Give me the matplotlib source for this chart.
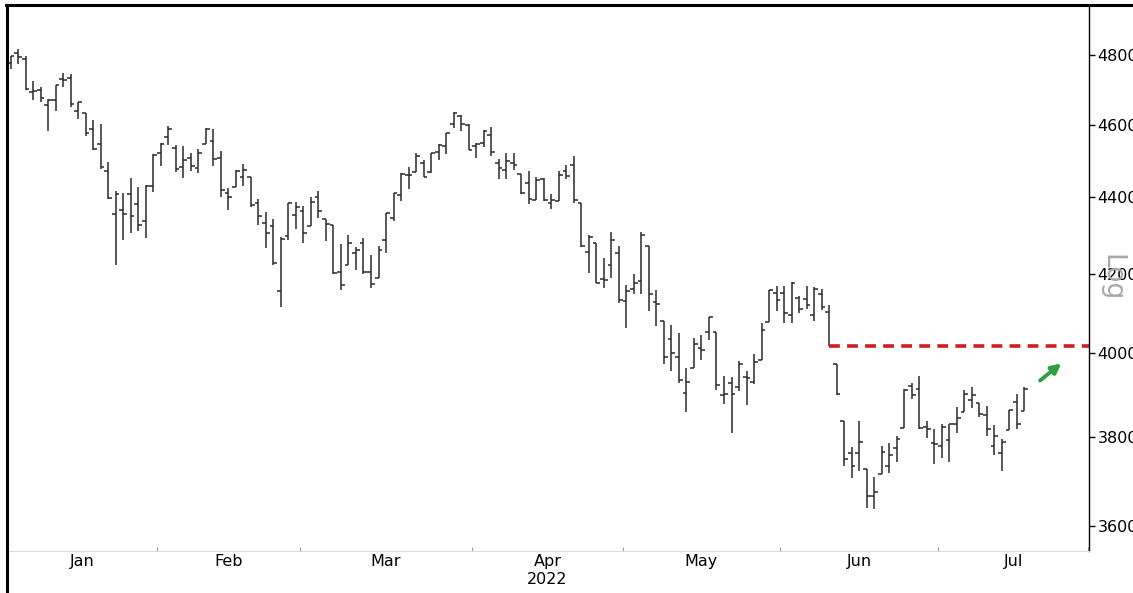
import numpy as np
import pandas as pd
import matplotlib
matplotlib.use("Agg")
import matplotlib.pyplot as plt
from matplotlib.lines import Line2D
from matplotlib.ticker import FixedLocator, NullFormatter, NullLocator

# trading days Jan 3 - Jul 19 2022 (market holidays removed)
holidays = ["2022-01-17", "2022-02-21", "2022-04-15", "2022-05-30", "2022-06-20", "2022-07-04"]
dates = pd.bdate_range("2022-01-03", "2022-07-19")
dates = dates[~dates.isin(pd.to_datetime(holidays))]

opens = [4778, 4805, 4788, 4693, 4698, 4655, 4669, 4729, 4734, 4638,
         4632, 4588, 4547, 4471, 4356, 4367, 4408, 4381, 4336, 4432,
         4520, 4566, 4535, 4483, 4506, 4480, 4547, 4553, 4506, 4413,
         4429, 4456, 4456, 4385, 4333, 4325, 4156, 4298, 4354,
         4363, 4323, 4401, 4342, 4327, 4203, 4223, 4253, 4280, 4203,
         4189, 4288, 4345, 4407, 4462, 4469, 4493, 4470, 4523, 4541,
         4603, 4624, 4599,
         4540, 4548, 4572, 4494, 4475, 4494, 4463, 4438, 4394, 4449,
         4386, 4391, 4472, 4489, 4386, 4255, 4278, 4187, 4223, 4254,
         4131, 4160, 4181, 4270, 4128, 4081, 4035, 3990, 3904, 3964,
         4013, 4052, 4052, 3899, 3928, 3919, 3943, 3930, 3985, 4077, 4151,
         4150, 4095, 4138, 4135, 4096, 4147, 4102, 3974, 3838, 3764,
         3764, 3728, 3666, 3715, 3734, 3775, 3822, 3921, 3913, 3825, 3786,
         3781, 3793, 3832, 3859, 3888, 3881, 3852, 3780, 3764, 3818, 3884, 3861]
highs = [4797, 4819, 4798, 4725, 4708, 4673, 4714, 4749, 4744, 4665,
         4632, 4612, 4602, 4495, 4417, 4411, 4453, 4429, 4433, 4517,
         4550, 4595, 4543, 4540, 4522, 4531, 4590, 4589, 4526, 4426,
         4473, 4490, 4456, 4395, 4362, 4342, 4295, 4385, 4389,
         4378, 4401, 4417, 4342, 4327, 4277, 4299, 4268, 4291, 4248,
         4271, 4359, 4413, 4465, 4482, 4522, 4501, 4521, 4546, 4576,
         4637, 4628, 4603,
         4549, 4584, 4593, 4504, 4521, 4520, 4464, 4471, 4454, 4453,
         4410, 4471, 4488, 4513, 4386, 4299, 4278, 4241, 4308, 4270,
         4170, 4200, 4308, 4270, 4158, 4081, 4069, 4049, 3965, 4039,
         4046, 4091, 4052, 3946, 3943, 3982, 3956, 3999, 4075, 4158, 4168,
         4167, 4178, 4143, 4169, 4165, 4160, 4119, 3974, 3838, 3778,
         3838, 3728, 3708, 3780, 3786, 3803, 3914, 3928, 3946, 3837, 3819,
         3830, 3832, 3871, 3911, 3919, 3881, 3873, 3829, 3796, 3864, 3902, 3918]
lows = [4758, 4774, 4699, 4671, 4663, 4582, 4638, 4707, 4650, 4615,
        4569, 4530, 4478, 4395, 4223, 4287, 4305, 4310, 4292, 4414,
        4484, 4544, 4470, 4452, 4471, 4465, 4547, 4484, 4401, 4365,
        4429, 4430, 4374, 4327, 4267, 4222, 4115, 4287, 4315,
        4280, 4323, 4346, 4285, 4200, 4158, 4223, 4210, 4200, 4162,
        4188, 4252, 4336, 4391, 4424, 4469, 4456, 4465, 4501, 4518,
        4590, 4581, 4530,
        4508, 4539, 4514, 4450, 4450, 4475, 4408, 4381, 4393, 4391,
        4370, 4391, 4449, 4384, 4268, 4201, 4175, 4163, 4189, 4124,
        4063, 4147, 4149, 4106, 4068, 3975, 3958, 3929, 3859, 3964,
        3984, 4034, 3912, 3877, 3810, 3909, 3875, 3925, 3985, 4077, 4105,
        4074, 4074, 4099, 4109, 4080, 4107, 4017, 3900, 3734, 3706,
        3722, 3640, 3637, 3715, 3718, 3744, 3822, 3890, 3820, 3799, 3739,
        3752, 3742, 3809, 3859, 3869, 3847, 3802, 3759, 3722, 3817, 3819, 3861]
closes = [4797, 4794, 4701, 4696, 4677, 4670, 4713, 4726, 4659, 4663,
          4577, 4533, 4483, 4398, 4410, 4356, 4350, 4327, 4432, 4516,
          4547, 4589, 4477, 4501, 4484, 4522, 4587, 4504, 4419, 4402,
          4471, 4475, 4380, 4349, 4305, 4226, 4289, 4385, 4374,
          4306, 4387, 4363, 4329, 4201, 4171, 4278, 4260, 4204, 4173,
          4262, 4358, 4412, 4463, 4461, 4512, 4456, 4520, 4543, 4576,
          4632, 4602, 4530,
          4546, 4583, 4525, 4481, 4500, 4488, 4413, 4397, 4447, 4393,
          4392, 4462, 4459, 4394, 4272, 4296, 4175, 4184, 4288, 4132,
          4155, 4175, 4300, 4147, 4123, 3991, 4001, 3935, 3930, 4024,
          4008, 4089, 3924, 3901, 3901, 3974, 3941, 3979, 4058, 4158, 4132,
          4101, 4177, 4109, 4121, 4161, 4116, 4018, 3901, 3750, 3735,
          3790, 3667, 3675, 3765, 3760, 3796, 3912, 3900, 3822, 3819, 3785,
          3825, 3831, 3845, 3903, 3899, 3854, 3819, 3802, 3790, 3863, 3831, 3915]

resistance = 4018          # Jun 9 close
resistance_start = "2022-06-09"
yticks = [3600, 3800, 4000, 4200, 4400, 4600, 4800]

x = np.arange(len(dates))

W, H = 1133, 593
fig = plt.figure(figsize=(W / 100, H / 100), dpi=100)
ax = fig.add_axes([6 / W, (H - 551) / H, (1089 - 6) / W, (551 - 5) / H])

bar_col = "#2a2a2a"
ax.vlines(x, lows, highs, color=bar_col, lw=1.1)
ax.hlines(opens, x - 0.5, x, color=bar_col, lw=1.1)
ax.hlines(closes, x, x + 0.5, color=bar_col, lw=1.1)

ax.set_yscale("log")
ax.set_ylim(3545, 4949)
ax.set_xlim(-0.6, 143.6)

# resistance line and arrow
i0 = int(np.where(dates == pd.Timestamp(resistance_start))[0][0])
ax.plot([i0, 143.6], [resistance, resistance], color="#cc1f1f", lw=2.6,
        ls=(0, (3, 2)), solid_capstyle="butt")
ax.annotate("", xy=(140.2, 3980), xytext=(136.8, 3930),
            arrowprops=dict(arrowstyle="-|>", color="#2ea043", lw=2.8,
                            mutation_scale=14))

# y axis on the right
ax.yaxis.tick_right()
ax.yaxis.set_major_locator(FixedLocator(yticks))
ax.yaxis.set_minor_locator(NullLocator())
ax.yaxis.set_minor_formatter(NullFormatter())
ax.set_yticklabels([str(v) for v in yticks])
ax.tick_params(axis="y", direction="out", length=4, width=1, pad=2,
               labelsize=11.5, colors="black")

# month separators and labels
month_start = [i for i in range(len(dates)) if i == 0 or dates[i].month != dates[i - 1].month]
bounds = [s - 0.5 for s in month_start] + [143.5]
months = [dates[s].strftime("%b") for s in month_start]
ax.xaxis.set_major_locator(FixedLocator(bounds[1:]))
ax.xaxis.set_major_formatter(NullFormatter())
centers = [(bounds[k] + bounds[k + 1]) / 2 for k in range(len(months))]
ax.xaxis.set_minor_locator(FixedLocator(centers))
ax.set_xticklabels(months, minor=True)
ax.tick_params(axis="x", which="major", direction="in", length=3, color="#999999")
ax.tick_params(axis="x", which="minor", length=0, labelsize=11.5, pad=2)
ax.text((bounds[3] + bounds[4]) / 2, -0.053, "2022", transform=ax.get_xaxis_transform(),
        ha="center", va="center", fontsize=11.5)

for s in ["top", "left"]:
    ax.spines[s].set_visible(False)
ax.spines["right"].set_color("black")
ax.spines["right"].set_linewidth(1.0)
ax.spines["bottom"].set_color("#dddddd")

fig.text(1111 / W, 1 - 278 / H, "Log", rotation=270, color="#a8a8a8",
         fontsize=19, ha="center", va="center")

# outer frame (left and top)
fig.add_artist(Line2D([7 / W, 7 / W], [0, 1 - 5 / H], color="black", lw=2.2,
                      transform=fig.transFigure))
fig.add_artist(Line2D([6 / W, 1], [1 - 5 / H, 1 - 5 / H], color="black", lw=2.2,
                      transform=fig.transFigure))

fig.savefig("out.png", dpi=100)
